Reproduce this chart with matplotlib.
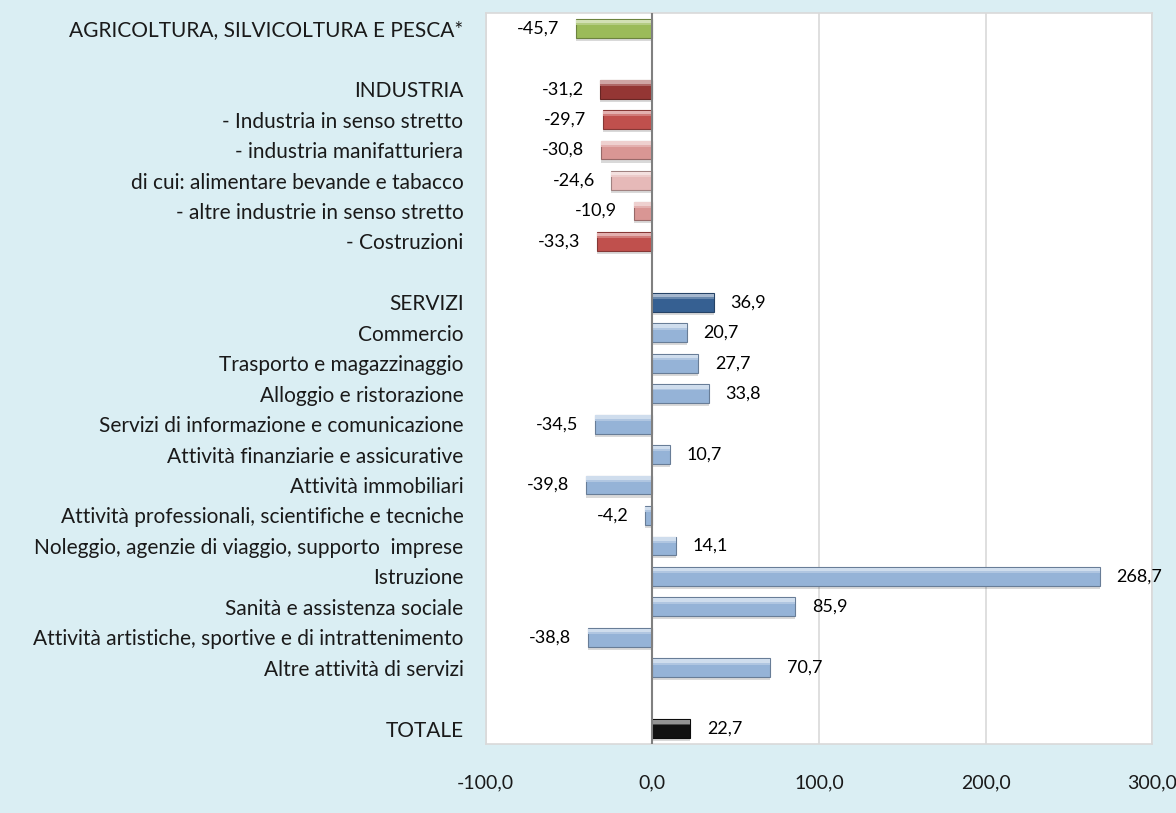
import matplotlib
matplotlib.use("Agg")
import matplotlib.pyplot as plt
from matplotlib.colors import to_rgb
import numpy as np

# categorie (le stringhe vuote sono le righe di separazione)
categories = [
    "AGRICOLTURA, SILVICOLTURA E PESCA*",
    "",
    "INDUSTRIA",
    "- Industria in senso stretto",
    "- industria manifatturiera",
    "di cui: alimentare bevande e tabacco",
    "- altre industrie in senso stretto",
    "- Costruzioni",
    "",
    "SERVIZI",
    "Commercio",
    "Trasporto e magazzinaggio",
    "Alloggio e ristorazione",
    "Servizi di informazione e comunicazione",
    "Attività finanziarie e assicurative",
    "Attività immobiliari",
    "Attività professionali, scientifiche e tecniche",
    "Noleggio, agenzie di viaggio, supporto  imprese",
    "Istruzione",
    "Sanità e assistenza sociale",
    "Attività artistiche, sportive e di intrattenimento",
    "Altre attività di servizi",
    "",
    "TOTALE",
]
values = [
    -45.7, None,
    -31.2, -29.7, -30.8, -24.6, -10.9, -33.3, None,
    36.9, 20.7, 27.7, 33.8, -34.5, 10.7, -39.8, -4.2, 14.1, 268.7, 85.9, -38.8, 70.7,
    None, 22.7,
]
colors = [
    "#9BBB59", None,
    "#943634", "#C0504D", "#D99694", "#E6B9B8", "#D99694", "#C0504D", None,
    "#366092", "#95B3D7", "#95B3D7", "#95B3D7", "#95B3D7", "#95B3D7", "#95B3D7",
    "#95B3D7", "#95B3D7", "#95B3D7", "#95B3D7", "#95B3D7", "#95B3D7",
    None, "#111111",
]
xticks = [-100, 0, 100, 200, 300]

BG = "#DAEEF3"
plt.rcParams["font.family"] = ["Lato", "DejaVu Sans"]


def shade(c, f):
    r = np.array(to_rgb(c))
    if f > 0:
        return tuple(r + (1 - r) * f)
    return tuple(r * (1 + f))


fig = plt.figure(figsize=(11.76, 8.13), dpi=100, facecolor=BG)
ax = fig.add_axes([0.413, 0.085, 0.5667, 0.899])
ax.set_facecolor("white")

h = 0.62
for i, (v, c) in enumerate(zip(values, colors)):
    if v is None:
        continue
    # ombra sotto la barra
    ax.barh(i + 0.1, v, height=h, color="#000000", alpha=0.15, zorder=2)
    # corpo
    ax.barh(i, v, height=h, color=c, edgecolor=shade(c, -0.3), linewidth=0.8, zorder=3)
    # bevel: bordo chiaro in alto
    ax.barh(i - h * 0.36, v, height=h * 0.2, color=shade(c, 0.55), zorder=4)
    ax.barh(i - h * 0.22, v, height=h * 0.1, color=shade(c, 0.25), zorder=4)
    lab = f"{v:.1f}".replace(".", ",")
    off = 12 if v >= 0 else -12
    ax.annotate(lab, (v, i), xytext=(off, 0), textcoords="offset points",
                ha="left" if v >= 0 else "right", va="center",
                fontsize=13, color="#000000", zorder=5)

ax.set_xlim(-100, 300)
ax.set_ylim(23.5, -0.5)
ax.set_yticks(range(len(categories)))
ax.set_yticklabels(categories, fontsize=15, color="#1a1a1a")
ax.set_xticks(xticks)
ax.set_xticklabels([f"{t:.1f}".replace(".", ",") for t in xticks], fontsize=14, color="#1a1a1a")
ax.tick_params(axis="y", length=0, pad=16)
ax.tick_params(axis="x", length=0, pad=22)

ax.grid(axis="x", color="#D9D9D9", linewidth=1.2, zorder=0)
ax.set_axisbelow(True)
ax.axvline(0, color="#808080", linewidth=1.5, zorder=4)
for s in ax.spines.values():
    s.set_color("#D9D9D9")
    s.set_linewidth(1.2)

fig.savefig("out.png", dpi=100, facecolor=BG)
